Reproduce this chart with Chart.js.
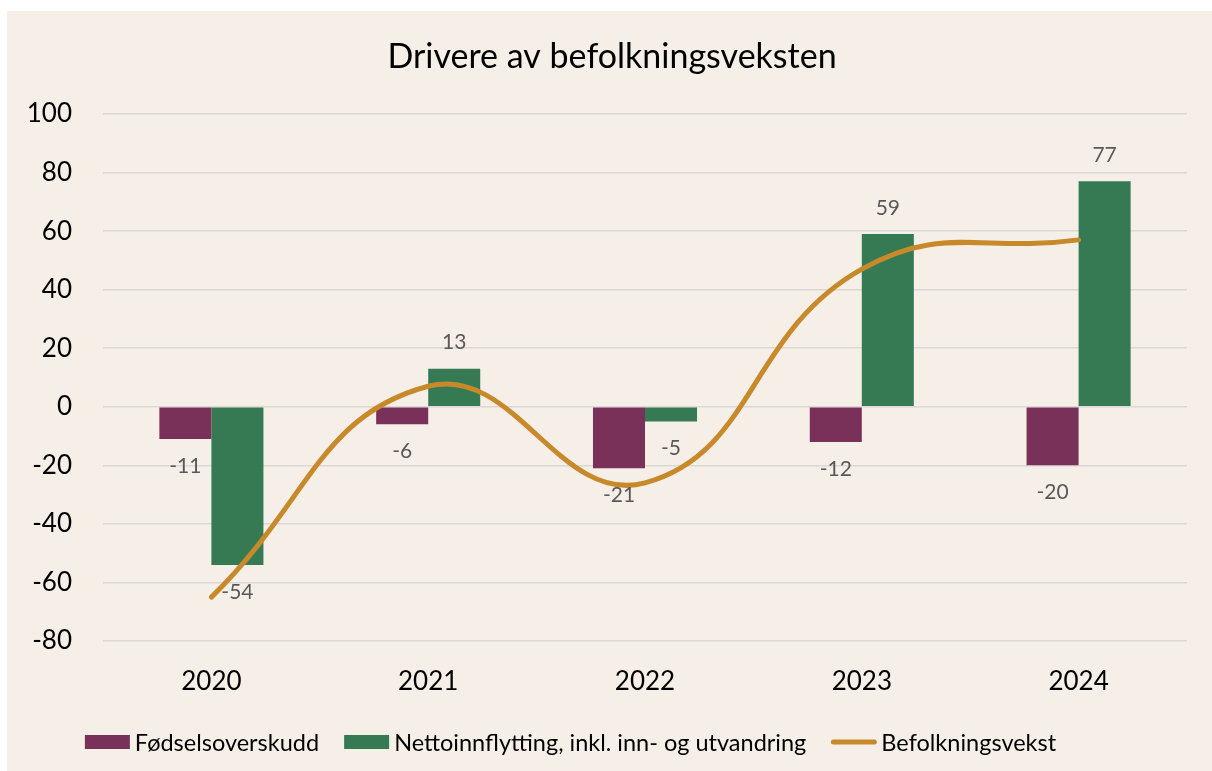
<!DOCTYPE html>
<html>
<head>
<meta charset="utf-8">
<script src="https://cdn.jsdelivr.net/npm/chart.js@4/dist/chart.umd.min.js"></script>
<style>
  html, body { margin: 0; padding: 0; background: #ffffff; }
  #wrap { width: 1212px; height: 771px; position: relative; }
</style>
</head>
<body>
<div id="wrap"><canvas id="c" width="1212" height="771"></canvas></div>
<script>
const categories = ['2020', '2021', '2022', '2023', '2024'];
const fodselsoverskudd = [-11, -6, -21, -12, -20];
const nettoinnflytting = [-54, 13, -5, 59, 77];
const befolkningsvekst = [-65, 7, -26, 47, 57];
const yTicks = [-80, -60, -40, -20, 0, 20, 40, 60, 80, 100];
const titleText = 'Drivere av befolkningsveksten';

const FONT = 'Lato, "Open Sans", sans-serif';
const C_PURPLE = '#7a3159';
const C_GREEN = '#367a53';
const C_GOLD = '#c8892b';
const C_BG = '#f6efe8';

const bgPlugin = {
  id: 'bg',
  beforeDraw(chart) {
    const ctx = chart.ctx;
    ctx.save();
    ctx.fillStyle = '#ffffff';
    ctx.fillRect(0, 0, chart.width, chart.height);
    ctx.fillStyle = C_BG;
    ctx.fillRect(7, 11, chart.width - 7, chart.height - 11);
    ctx.fillStyle = '#000000';
    ctx.font = '34px ' + FONT;
    ctx.textAlign = 'center';
    ctx.textBaseline = 'middle';
    ctx.fillText(titleText, 612, 57);
    ctx.restore();
  }
};

const labelPlugin = {
  id: 'barLabels',
  afterDatasetsDraw(chart) {
    const ctx = chart.ctx;
    ctx.save();
    ctx.font = '21px ' + FONT;
    ctx.fillStyle = '#595959';
    ctx.textAlign = 'center';
    ctx.textBaseline = 'middle';
    chart.data.datasets.forEach((ds, i) => {
      if (ds.type !== 'bar') return;
      const meta = chart.getDatasetMeta(i);
      meta.data.forEach((el, j) => {
        const v = ds.data[j];
        const y = v >= 0 ? el.y - 26 : el.y + 27;
        ctx.fillText(String(v), el.x, y);
      });
    });
    ctx.restore();
  }
};

const legendPlugin = {
  id: 'customLegend',
  afterDraw(chart) {
    const ctx = chart.ctx;
    ctx.save();
    ctx.font = '23.5px ' + FONT;
    ctx.textBaseline = 'middle';
    ctx.textAlign = 'left';
    const boxW = 45, boxH = 14, gapText = 5, gapItem = 25;
    const items = chart.data.datasets.map(ds => ({
      text: ds.label, color: ds.type === 'line' ? ds.borderColor : ds.backgroundColor, line: ds.type === 'line'
    }));
    let total = 0;
    items.forEach((it, k) => {
      it.w = ctx.measureText(it.text).width;
      total += boxW + gapText + it.w + (k < items.length - 1 ? gapItem : 0);
    });
    let x = 570.5 - total / 2;
    const cy = 742;
    items.forEach(it => {
      if (it.line) {
        ctx.strokeStyle = it.color;
        ctx.lineWidth = 5;
        ctx.lineCap = 'round';
        ctx.beginPath();
        ctx.moveTo(x + 2, cy);
        ctx.lineTo(x + boxW - 2, cy);
        ctx.stroke();
      } else {
        ctx.fillStyle = it.color;
        ctx.fillRect(x, cy - boxH / 2, boxW, boxH);
      }
      ctx.fillStyle = '#000000';
      ctx.fillText(it.text, x + boxW + gapText, cy + 1);
      x += boxW + gapText + it.w + gapItem;
    });
    ctx.restore();
  }
};

new Chart(document.getElementById('c'), {
  data: {
    labels: categories,
    datasets: [
      {
        type: 'bar',
        label: 'Fødselsoverskudd',
        data: fodselsoverskudd,
        backgroundColor: C_PURPLE,
        barPercentage: 1,
        categoryPercentage: 0.48,
        order: 1
      },
      {
        type: 'bar',
        label: 'Nettoinnflytting, inkl. inn- og utvandring',
        data: nettoinnflytting,
        backgroundColor: C_GREEN,
        barPercentage: 1,
        categoryPercentage: 0.48,
        order: 1
      },
      {
        type: 'line',
        label: 'Befolkningsvekst',
        data: befolkningsvekst,
        borderColor: C_GOLD,
        backgroundColor: C_GOLD,
        borderWidth: 5,
        borderCapStyle: 'round',
        pointRadius: 0,
        tension: 0.45,
        order: 0
      }
    ]
  },
  options: {
    responsive: false,
    animation: false,
    devicePixelRatio: 1,
    layout: { padding: { left: 20, right: 25, top: 114, bottom: 70 } },
    plugins: {
      legend: { display: false },
      tooltip: { enabled: false },
      title: { display: false }
    },
    scales: {
      x: {
        grid: { display: false, drawTicks: false },
        border: { display: false },
        ticks: { color: '#000000', font: { family: FONT, size: 26 }, padding: 25 },
        afterFit(scale) { scale.height = 60; }
      },
      y: {
        min: -80,
        max: 100,
        afterBuildTicks(scale) { scale.ticks = yTicks.map(v => ({ value: v })); },
        grid: { color: '#dcd8d5', lineWidth: 1.5, drawTicks: false },
        border: { display: false },
        ticks: { color: '#000000', font: { family: FONT, size: 26 }, padding: 31 },
        afterFit(scale) { scale.width = 83; }
      }
    }
  },
  plugins: [bgPlugin, labelPlugin, legendPlugin]
});
</script>
</body>
</html>
